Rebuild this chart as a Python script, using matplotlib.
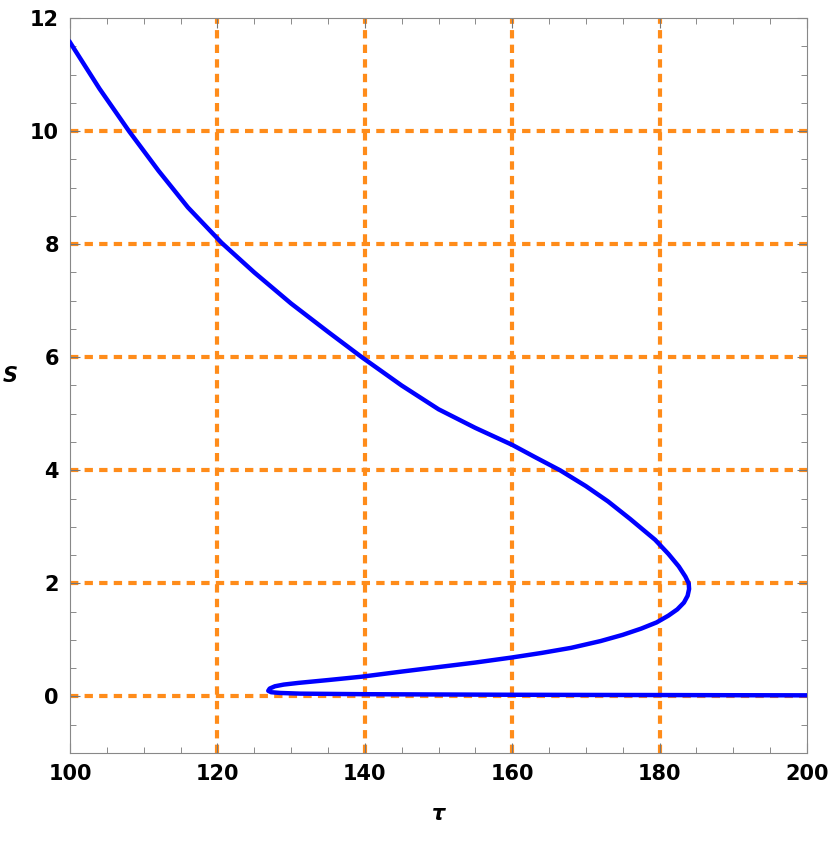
import matplotlib
matplotlib.use("Agg")
import matplotlib.pyplot as plt
from matplotlib.ticker import MultipleLocator

# curve, traced from upper-left end around the fold
tau = [100, 104, 108, 112, 116, 120.6, 125, 130, 135, 139.6, 145, 150, 155, 160,
       163, 166.5, 170, 173, 176, 179.4, 181.2, 182.6, 183.5, 183.95, 184.0, 183.8,
       183.3, 182.4, 181.2, 179.6, 177.5, 175, 172, 168, 164, 160, 155, 150, 145,
       139.6, 135, 131, 129, 127.8, 127.1, 126.9, 127.3, 128.5, 131.2, 140, 150,
       160, 170, 180, 190, 200]
S = [11.57, 10.75, 10.0, 9.3, 8.65, 8.02, 7.5, 6.95, 6.45, 6.0, 5.5, 5.08, 4.75, 4.45,
     4.24, 4.0, 3.72, 3.45, 3.14, 2.77, 2.52, 2.3, 2.12, 2.0, 1.9, 1.78,
     1.66, 1.54, 1.43, 1.31, 1.2, 1.09, 0.98, 0.86, 0.77, 0.69, 0.6, 0.52, 0.44,
     0.35, 0.29, 0.24, 0.21, 0.18, 0.14, 0.1, 0.075, 0.062, 0.05, 0.04, 0.035,
     0.03, 0.027, 0.025, 0.022, 0.02]

grid_x = [120, 140, 160, 180]
grid_y = [0, 2, 4, 6, 8, 10]

fig = plt.figure(figsize=(8.30, 8.47), dpi=100)
ax = fig.add_axes([70/830, 1-753/847, (807-70)/830, (753-18)/847])
for gx in grid_x:
    ax.axvline(gx, color="#ff8c1a", ls=(0, (2, 1.5)), lw=3, zorder=1)
for gy in grid_y:
    ax.axhline(gy, color="#ff8c1a", ls=(0, (2, 1.5)), lw=3, zorder=1)
ax.plot(tau, S, color="#0000ff", lw=3.2, zorder=3, solid_joinstyle="round")

ax.set_xlim(100, 200)
ax.set_ylim(-1, 12)
ax.xaxis.set_major_locator(MultipleLocator(20))
ax.xaxis.set_minor_locator(MultipleLocator(5))
ax.yaxis.set_major_locator(MultipleLocator(2))
ax.yaxis.set_minor_locator(MultipleLocator(0.5))
ax.tick_params(which="both", direction="in", top=True, right=True, color="#777777")
ax.tick_params(which="major", length=7, labelsize=15, pad=8)
ax.tick_params(which="minor", length=4)
for lab in ax.get_xticklabels() + ax.get_yticklabels():
    lab.set_fontweight("bold")
for s in ax.spines.values():
    s.set_color("#888888")
ax.set_xlabel("τ", fontsize=15, fontweight="bold", fontstyle="italic", labelpad=14)
ax.set_ylabel("S", fontsize=15, fontweight="bold", fontstyle="italic", rotation=0,
              labelpad=14)
fig.savefig("out.png", dpi=100)
